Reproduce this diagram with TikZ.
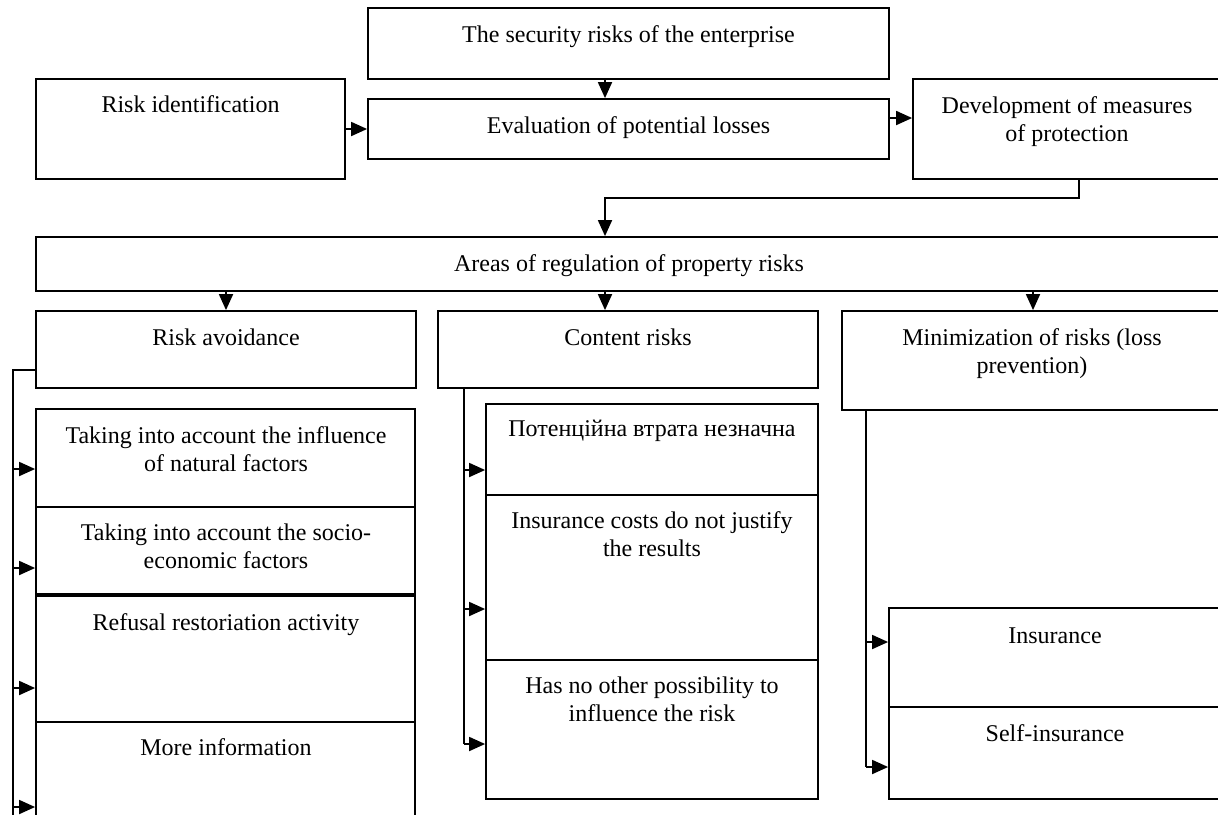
\documentclass[tikz,border=0pt]{standalone}
\usepackage{fontspec}
\setmainfont{Liberation Serif}
\usetikzlibrary{arrows.meta,fit}
\tikzset{
  box/.style={draw, inner sep=0pt},
  lbl/.style={anchor=base, align=center, inner sep=0pt, font=\fontsize{12}{14}\selectfont},
}
\begin{document}
\begin{tikzpicture}[x=0.5pt, y=-0.5pt, line width=0.9pt, >={Triangle[length=8pt,width=7pt]}]
        \useasboundingbox (0,0) rectangle (1218,814);
        \clip (0,0) rectangle (1218,814);
        % upper part
        \node[box, fit={(368,8) (889,79)}] (sec) {};
        \node[box, fit={(36,79) (345,179)}] (ident) {};
        \node[box, fit={(368,99) (889,159)}] (eval) {};
        \node[box, fit={(913,79) (1224,179)}] (dev) {};
        \node[box, fit={(36,237) (1224,291)}] (areas) {};
        \node[lbl] (sec-t) at (628.5,42.5) {The security risks of the enterprise};
        \node[lbl] (ident-t) at (190.5,112) {Risk identification};
        \node[lbl] (eval-t) at (628.5,133) {Evaluation of potential losses};
        \node[lbl] (dev-t) at (1067,141) {Development of measures\\of protection};
        \node[lbl] (areas-t) at (629,271) {Areas of regulation of property risks};
        % three directions
        \node[box, fit={(36,311) (416,388)}] (avoid) {};
        \node[box, fit={(438,311) (818,388)}] (content) {};
        \node[box, fit={(842,311) (1224,410)}] (minim) {};
        \node[lbl] (avoid-t) at (226,345) {Risk avoidance};
        \node[lbl] (content-t) at (628,345) {Content risks};
        \node[lbl] (minim-t) at (1032,373) {Minimization of risks (loss\\prevention)};
        % risk avoidance column
        \node[box, fit={(36,409) (415,507)}] (natural) {};
        \node[box, fit={(36,507) (415,594)}] (socio) {};
        \node[box, fit={(36,596) (415,722)}] (refusal) {};
        \node[box, fit={(36,722) (415,840)}] (more) {};
        \node[lbl] (natural-t) at (226,471) {Taking into account the influence\\of natural factors};
        \node[lbl] (socio-t) at (226,568) {Taking into account the socio-\\economic factors};
        \node[lbl] (refusal-t) at (226,630) {Refusal restoriation activity};
        \node[lbl] (more-t) at (226,755) {More information};
        % content risks column
        \node[box, fit={(486,404) (818,495)}] (potential) {};
        \node[box, fit={(486,495) (818,660)}] (costs) {};
        \node[box, fit={(486,660) (818,799)}] (noother) {};
        \node[lbl] (potential-t) at (652,436) {Потенційна втрата незначна};
        \node[lbl] (costs-t) at (652,556) {Insurance costs do not justify\\the results};
        \node[lbl] (noother-t) at (652,721) {Has no other possibility to\\influence the risk};
        % minimization column
        \node[box, fit={(889,608) (1224,707)}] (insur) {};
        \node[box, fit={(889,707) (1224,799)}] (selfins) {};
        \node[lbl] (insur-t) at (1055,643) {Insurance};
        \node[lbl] (selfins-t) at (1055,741) {Self-insurance};
        % connectors
        \coordinate (col) at (605,0);
        \coordinate (hi) at (0,118);
        \coordinate (drop) at (1079,198);
        \draw[->] (sec.south -| col) -- (eval.north -| col);
        \draw[->] (ident.east |- eval.west) -- (eval.west);
        \draw[->] (eval.east |- hi) -- (dev.west |- hi);
        \draw[->] (dev.south -| drop) -- (drop) -| (areas.north -| col);
        \draw[->] (areas.south -| avoid.north) -- (avoid.north);
        \draw[->] (areas.south -| col) -- (content.north -| col);
        \draw[->] (areas.south -| minim.north) -- (minim.north);
        \coordinate (railA) at (13,370);
        \coordinate (railB) at (464,0);
        \coordinate (railC) at (866,0);
        \draw (avoid.west |- railA) -- (railA) -- (railA |- 0,830);
        \foreach \b/\y in {natural/469, socio/568, refusal/688, more/807}
          \draw[->] (railA |- 0,\y) -- (\b.west |- 0,\y);
        \draw (content.south -| railB) -- (railB |- 0,744);
        \foreach \b/\y in {potential/470, costs/609, noother/744}
          \draw[->] (railB |- 0,\y) -- (\b.west |- 0,\y);
        \draw (minim.south -| railC) -- (railC |- 0,767);
        \foreach \b/\y in {insur/642, selfins/767}
          \draw[->] (railC |- 0,\y) -- (\b.west |- 0,\y);
\end{tikzpicture}
\end{document}
